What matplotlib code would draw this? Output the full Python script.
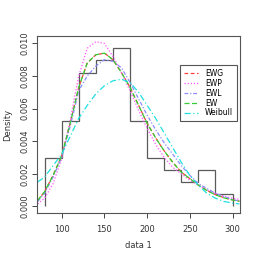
import matplotlib.pyplot as plt

# histogram of data 1 (density, bin width 20)
bin_edges = [80, 100, 120, 140, 160, 180, 200, 220, 240, 260, 280, 300]
hist_density = [0.00299, 0.00522, 0.00821, 0.00896, 0.00970, 0.00522,
                0.00299, 0.00224, 0.00149, 0.00224, 0.00075]

# fitted densities
xs = [72, 80, 90, 100, 110, 120, 130, 140, 150, 160, 170, 180, 190, 200,
      210, 220, 230, 240, 250, 260, 270, 280, 290, 300, 308]
ewg = [0.00035, 0.0009, 0.0019, 0.0031, 0.0051, 0.0073, 0.0088, 0.0093, 0.0094,
       0.0090, 0.0082, 0.0073, 0.0062, 0.0051, 0.0042, 0.0034, 0.0027, 0.0021,
       0.0017, 0.0013, 0.00098, 0.00072, 0.00053, 0.00040, 0.00032]
ewp = [0.00015, 0.0005, 0.0014, 0.0029, 0.0053, 0.0080, 0.0097, 0.0101, 0.0100,
       0.0092, 0.0082, 0.0071, 0.0059, 0.0048, 0.0038, 0.0030, 0.0024, 0.0020,
       0.0016, 0.0013, 0.0010, 0.0008, 0.00062, 0.00050, 0.00043]
ewl = [0.0003, 0.0008, 0.0018, 0.0030, 0.0049, 0.0071, 0.0080, 0.0086, 0.0090,
       0.0089, 0.0085, 0.0076, 0.0066, 0.0056, 0.0047, 0.0039, 0.0032, 0.0025,
       0.0019, 0.0014, 0.0011, 0.0008, 0.0006, 0.00042, 0.00032]
ew = [0.00037, 0.0009, 0.0019, 0.0031, 0.0051, 0.0073, 0.0088, 0.0093, 0.0094,
      0.0090, 0.0082, 0.0073, 0.0062, 0.0051, 0.0042, 0.0034, 0.0027, 0.0021,
      0.0017, 0.0013, 0.00097, 0.00071, 0.00052, 0.00039, 0.00031]
weibull = [0.0015, 0.0018, 0.0025, 0.0032, 0.0043, 0.0054, 0.0062, 0.0069, 0.0074,
           0.0077, 0.0078, 0.0076, 0.0070, 0.0062, 0.0054, 0.0045, 0.0036, 0.0027,
           0.0019, 0.0013, 0.0008, 0.0005, 0.0003, 0.0002, 0.00015]

fig = plt.figure(figsize=(2.59, 2.59), dpi=100)
ax = fig.add_axes([0.143, 0.178, 0.784, 0.683])

ax.stairs(hist_density, bin_edges, baseline=0, fill=False, color='#5a5a5a', lw=0.9)

ax.plot(xs, ewg, color='#ff4040', lw=0.9, ls=(0, (3, 2)), label='EWG')
ax.plot(xs, ewp, color='#ff55ff', lw=0.9, ls=(0, (1, 1.5)), label='EWP')
ax.plot(xs, ewl, color='#8c8cff', lw=0.9, ls=(0, (3, 1.5, 1, 1.5)), label='EWL')
ax.plot(xs, ew, color='#33cc33', lw=0.9, ls=(0, (4, 2)), label='EW')
ax.plot(xs, weibull, color='#22e0e0', lw=0.9, ls=(0, (5, 2, 1, 2)), label='Weibull')

ax.set_xlim(71.2, 308.8)
ax.set_ylim(-0.0004, 0.01045)
ax.set_xticks([100, 150, 200, 250, 300])
ax.set_yticks([0.0, 0.002, 0.004, 0.006, 0.008, 0.010])
ax.set_yticklabels(['0.000', '0.002', '0.004', '0.006', '0.008', '0.010'],
                   rotation=90, va='center')
ax.tick_params(labelsize=6, length=3.5, width=0.7, color='#444444',
               labelcolor='#333333')
ax.tick_params(axis='x', pad=5)
ax.tick_params(axis='y', pad=2)
for s in ax.spines.values():
    s.set_color('#555555')
    s.set_linewidth(0.8)

ax.set_xlabel('data 1', fontsize=6, color='#333333', labelpad=5)
ax.set_ylabel('Density', fontsize=6, color='#333333', labelpad=6)

leg = ax.legend(loc='upper right', bbox_to_anchor=(0.985, 0.836), fontsize=5.5,
                fancybox=False, edgecolor='#555555', framealpha=1,
                handlelength=1.9, handletextpad=0.9, borderpad=0.5,
                labelspacing=0.12, borderaxespad=0)
leg.get_frame().set_linewidth(0.8)

fig.savefig('out.png', dpi=100)
